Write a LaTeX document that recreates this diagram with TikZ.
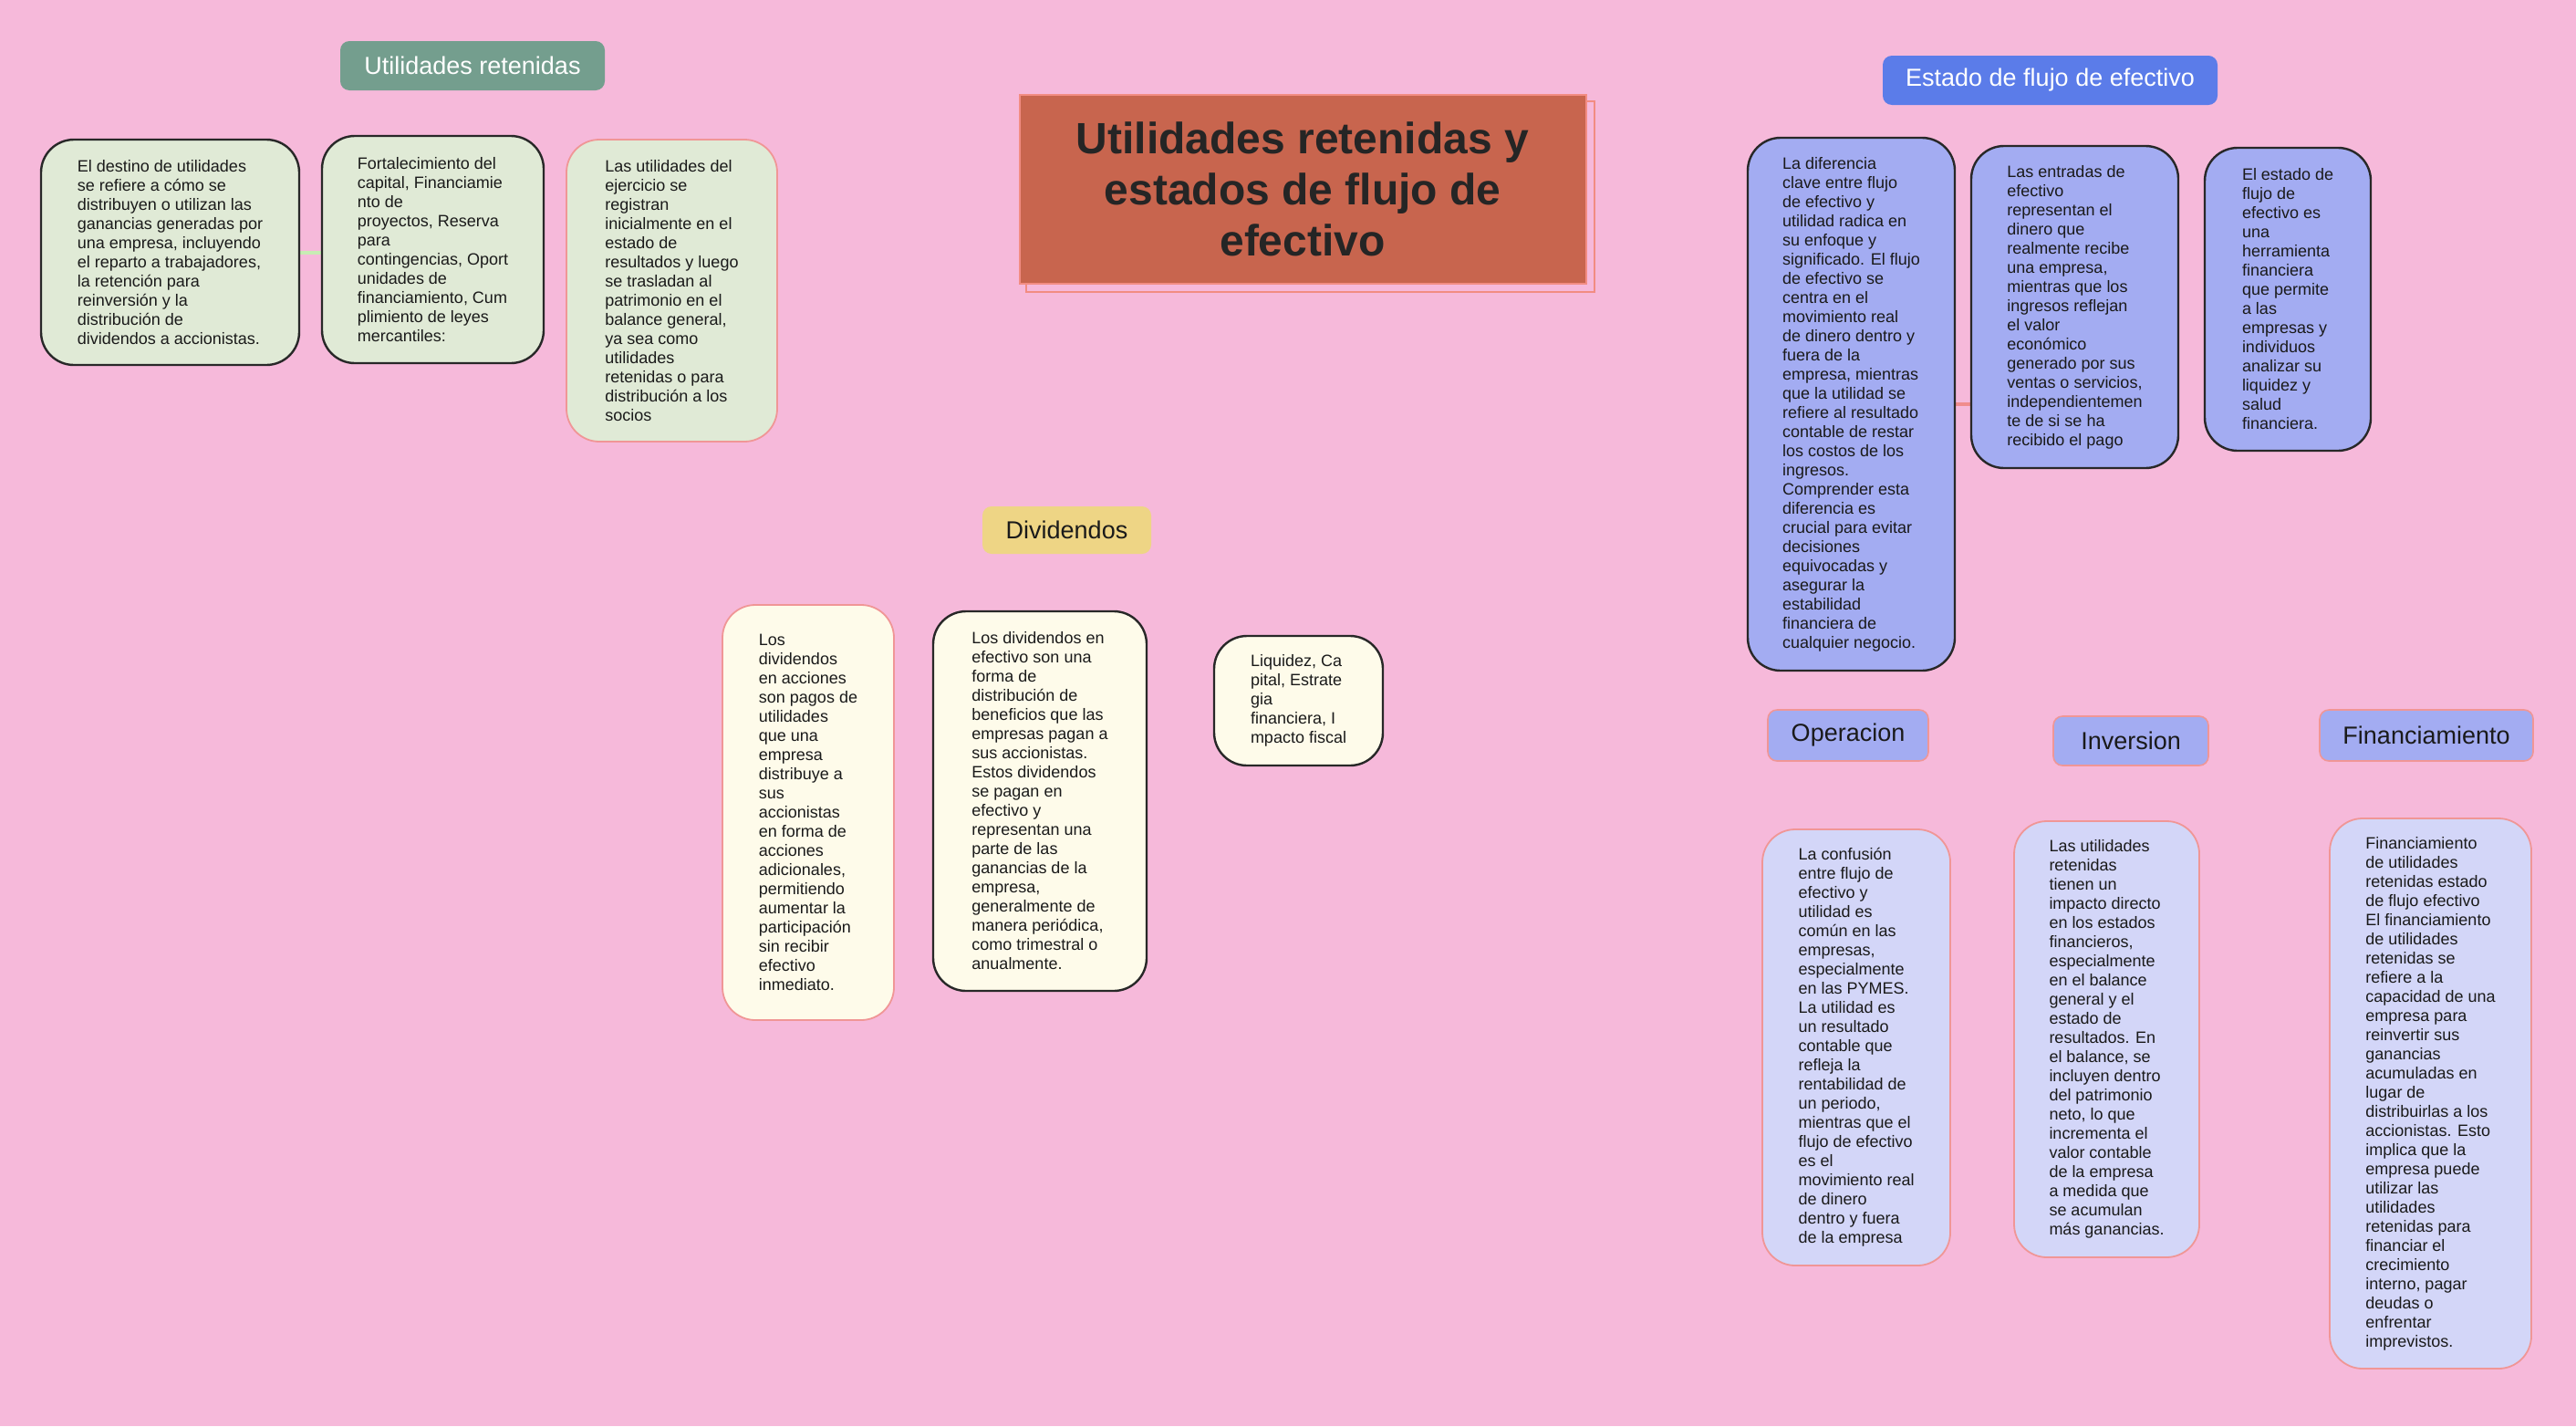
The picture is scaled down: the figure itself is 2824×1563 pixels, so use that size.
\documentclass[tikz,border=0pt]{standalone}
\usepackage{fontspec}
\setmainfont{Liberation Sans}
\usepackage{tikz}
\usetikzlibrary{backgrounds}
\definecolor{bgpink}{RGB}{246,185,218}
\definecolor{retheader}{RGB}{116,158,142}
\definecolor{greenbox}{RGB}{224,234,214}
\definecolor{titlefill}{RGB}{200,101,78}
\definecolor{titleline}{RGB}{242,140,130}
\definecolor{flujoheader}{RGB}{91,124,233}
\definecolor{bluebox}{RGB}{163,172,242}
\definecolor{lightblue}{RGB}{211,214,248}
\definecolor{divheader}{RGB}{238,213,133}
\definecolor{creambox}{RGB}{254,251,234}
\definecolor{borderpink}{RGB}{240,150,150}
\definecolor{borderdark}{RGB}{40,40,40}
\definecolor{inkdark}{RGB}{26,26,26}
\definecolor{linkgreen}{RGB}{200,236,180}
\definecolor{linksalmon}{RGB}{240,140,140}

\begin{document}
\begin{tikzpicture}[
    x=0.5pt, y=-0.5pt,
    boxsize/.style 2 args={minimum width=#1, minimum height=#2},
    header/.style={rounded corners=5pt, inner sep=0pt, 
                   font=\fontsize{13.5}{16}\selectfont},
    subheader/.style={header, fill=bluebox, draw=borderpink, line width=0.8pt, text=inkdark},
    textbox/.style={rounded corners=18pt, inner sep=0pt, align=left, 
                    font=\fontsize{9}{10.5}\selectfont, text=inkdark},
    darkbox/.style={textbox, draw=borderdark, line width=1.2pt},
    pinkbox/.style={textbox, draw=borderpink, line width=0.9pt},
    link/.style={line width=2pt}
]
    \useasboundingbox (0,0) rectangle (2824,1563);

    % titulo central
    \node[fill=titlefill, draw=titleline, line width=1pt, boxsize={310.5pt}{103.5pt}, inner sep=0pt,
          align=center, text=inkdark!95, font=\fontsize{24}{28}\selectfont\bfseries] (title) at (1428,207.5)
          {Utilidades retenidas y\\estados de flujo de\\efectivo};

    % utilidades retenidas
    \node[header, fill=retheader, text=white, boxsize={145pt}{27pt}] (retenidas) at (518,72) {Utilidades retenidas};
    \node[darkbox, fill=greenbox, boxsize={141.5pt}{123.5pt}] (destino) at (186.5,276.5)
          {El destino de utilidades\\se refiere a cómo se\\distribuyen o utilizan las\\ganancias generadas por\\una empresa, incluyendo\\el reparto a trabajadores,\\la retención para\\reinversión y la\\distribución de\\dividendos a accionistas.};
    \node[darkbox, fill=greenbox, boxsize={121.5pt}{124.5pt}] (fortalecer) at (474.5,273.5)
          {Fortalecimiento del\\capital, Financiamie\\nto de\\proyectos, Reserva\\para\\contingencias, Oport\\unidades de\\financiamiento, Cum\\plimiento de leyes\\mercantiles:};
    \node[pinkbox, fill=greenbox, boxsize={115.5pt}{165.5pt}] (ejercicio) at (736.5,318.5)
          {Las utilidades del\\ejercicio se\\registran\\inicialmente en el\\estado de\\resultados y luego\\se trasladan al\\patrimonio en el\\balance general,\\ya sea como\\utilidades\\retenidas o para\\distribución a los\\socios};

    % estado de flujo de efectivo
    \node[header, fill=flujoheader, text=white, boxsize={183.5pt}{27pt}] (flujo) at (2247.5,88) {Estado de flujo de efectivo};
    \node[darkbox, fill=bluebox, boxsize={113.5pt}{292pt}] (diferencia) at (2029.5,443)
          {La diferencia\\clave entre flujo\\de efectivo y\\utilidad radica en\\su enfoque y\\significado. El flujo\\de efectivo se\\centra en el\\movimiento real\\de dinero dentro y\\fuera de la\\empresa, mientras\\que la utilidad se\\refiere al resultado\\contable de restar\\los costos de los\\ingresos.\\Comprender esta\\diferencia es\\crucial para evitar\\decisiones\\equivocadas y\\asegurar la\\estabilidad\\financiera de\\cualquier negocio.};
    \node[darkbox, fill=bluebox, boxsize={113.5pt}{176.5pt}] (entradas) at (2274.5,336.5)
          {Las entradas de\\efectivo\\representan el\\dinero que\\realmente recibe\\una empresa,\\mientras que los\\ingresos reflejan\\el valor\\económico\\generado por sus\\ventas o servicios,\\independientemen\\te de si se ha\\recibido el pago};
    \node[darkbox, fill=bluebox, boxsize={91pt}{166pt}] (herramienta) at (2508,328)
          {El estado de\\flujo de\\efectivo es\\una\\herramienta\\financiera\\que permite\\a las\\empresas y\\individuos\\analizar su\\liquidez y\\salud\\financiera.};

    % dividendos
    \node[header, fill=divheader, text=inkdark, boxsize={92.5pt}{26pt}] (dividendos) at (1169.5,581) {Dividendos};
    \node[pinkbox, fill=creambox, boxsize={94pt}{227.5pt}] (acciones) at (886,890.5)
          {Los\\dividendos\\en acciones\\son pagos de\\utilidades\\que una\\empresa\\distribuye a\\sus\\accionistas\\en forma de\\acciones\\adicionales,\\permitiendo\\aumentar la\\participación\\sin recibir\\efectivo\\inmediato.};
    \node[darkbox, fill=creambox, boxsize={117pt}{208pt}] (efectivo) at (1140,878)
          {Los dividendos en\\efectivo son una\\forma de\\distribución de\\beneficios que las\\empresas pagan a\\sus accionistas.\\Estos dividendos\\se pagan en\\efectivo y\\representan una\\parte de las\\ganancias de la\\empresa,\\generalmente de\\manera periódica,\\como trimestral o\\anualmente.};
    \node[darkbox, fill=creambox, boxsize={92.5pt}{71pt}] (liquidez) at (1423.5,768)
          {Liquidez, Ca\\pital, Estrate\\gia\\financiera, I\\mpacto fiscal};

    % actividades
    \node[subheader, boxsize={88pt}{28pt}] (operacion) at (2026,806) {Operacion};
    \node[subheader, boxsize={85pt}{27pt}] (inversion) at (2336,812) {Inversion};
    \node[subheader, boxsize={117pt}{28pt}] (financiamiento) at (2660,806) {Financiamiento};
    \node[pinkbox, fill=lightblue, boxsize={103pt}{239pt}] (confusion) at (2035,1148)
          {La confusión\\entre flujo de\\efectivo y\\utilidad es\\común en las\\empresas,\\especialmente\\en las PYMES.\\La utilidad es\\un resultado\\contable que\\refleja la\\rentabilidad de\\un periodo,\\mientras que el\\flujo de efectivo\\es el\\movimiento real\\de dinero\\dentro y fuera\\de la empresa};
    \node[pinkbox, fill=lightblue, boxsize={101.5pt}{239pt}] (impacto) at (2309.5,1139)
          {Las utilidades\\retenidas\\tienen un\\impacto directo\\en los estados\\financieros,\\especialmente\\en el balance\\general y el\\estado de\\resultados. En\\el balance, se\\incluyen dentro\\del patrimonio\\neto, lo que\\incrementa el\\valor contable\\de la empresa\\a medida que\\se acumulan\\más ganancias.};
    \node[pinkbox, fill=lightblue, boxsize={110.5pt}{301.5pt}] (reinvertir) at (2664.5,1198.5)
          {Financiamiento\\de utilidades\\retenidas estado\\de flujo efectivo\\El financiamiento\\de utilidades\\retenidas se\\refiere a la\\capacidad de una\\empresa para\\reinvertir sus\\ganancias\\acumuladas en\\lugar de\\distribuirlas a los\\accionistas. Esto\\implica que la\\empresa puede\\utilizar las\\utilidades\\retenidas para\\financiar el\\crecimiento\\interno, pagar\\deudas o\\enfrentar\\imprevistos.};

    \begin{scope}[on background layer]
        \fill[bgpink] (0,0) rectangle (2824,1563);
        \draw[titleline, line width=1pt] ([shift={(8,8)}]title.north west) rectangle ([shift={(8,8)}]title.south east);
        \draw[link, linkgreen] (destino.east) -- (destino.east -| fortalecer.west);
        \draw[link, linksalmon] (diferencia.east) -- (diferencia.east -| entradas.west);
    \end{scope}
\end{tikzpicture}
\end{document}
